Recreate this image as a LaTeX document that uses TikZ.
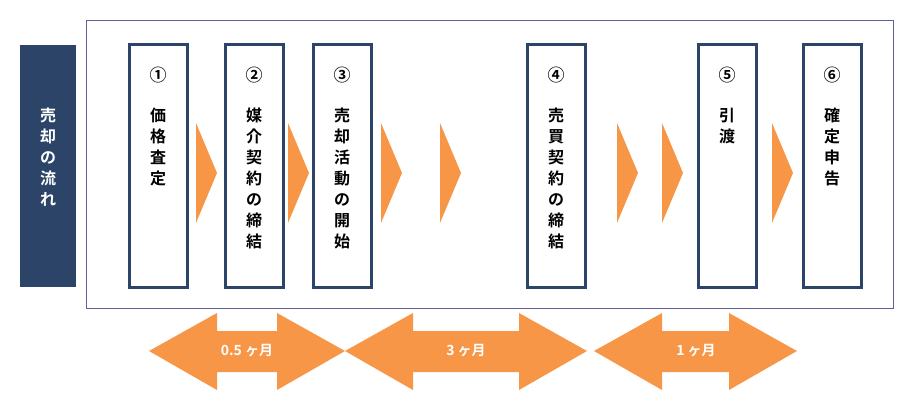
\documentclass[tikz,border=0pt]{standalone}
\usepackage{fontspec}
\newfontfamily\jp{Noto Sans CJK JP}[BoldFont={* Bold}]
\definecolor{navy}{HTML}{2C4468}
\definecolor{org}{HTML}{F79646}
\definecolor{frm}{HTML}{5F5F9A}
\begin{document}
\begin{tikzpicture}[x=1pt,y=-1pt,
 stepbox/.style={draw=navy,line width=3pt,fill=white},
 chev/.style={fill=org},
 vt/.style={font=\jp\bfseries\fontsize{16}{21}\selectfont,align=center,anchor=north,inner sep=0},
 dbl/.style={fill=org},
 lab/.style={font=\jp\bfseries\fontsize{14}{16}\selectfont,text=white}]
\useasboundingbox (0,0) rectangle (900,409);
\draw[frm,line width=0.8pt] (86,20) rectangle (893,308);
\fill[navy] (20,45) rectangle (76,287);
\node[vt,text=white] (title) at (48,108) {売\\却\\の\\流\\れ};
\foreach \n/\x/\t in {1/129/{価\\格\\査\\定},2/225/{媒\\介\\契\\約\\の\\締\\結},3/313/{売\\却\\活\\動\\の\\開\\始},4/527/{売\\買\\契\\約\\の\\締\\結},5/698/{引\\渡},6/803/{確\\定\\申\\告}}{
 \draw[stepbox] (\x,44.5) rectangle ++(58,243);
 \node[vt] (b\n) at (\x+29,108) {\t};
}
\node[font=\jp\bfseries\fontsize{17}{17}\selectfont] (c1) at (158,75) {①};
\node[font=\jp\bfseries\fontsize{17}{17}\selectfont] (c2) at (254,75) {②};
\node[font=\jp\bfseries\fontsize{17}{17}\selectfont] (c3) at (342,75) {③};
\node[font=\jp\bfseries\fontsize{17}{17}\selectfont] (c4) at (556,75) {④};
\node[font=\jp\bfseries\fontsize{17}{17}\selectfont] (c5) at (727,75) {⑤};
\node[font=\jp\bfseries\fontsize{17}{17}\selectfont] (c6) at (832,75) {⑥};
\foreach \a in {196,288,381,440,617,662,772}{
 \fill[chev] (\a,123) -- (\a+21,173) -- (\a,223) -- cycle;
}
\foreach \l/\r in {149/345,345/587,594/797}{
 \fill[dbl] (\l,351) -- (\l+68,313) -- (\l+68,331) -- (\r-68,331) -- (\r-68,313) -- (\r,351) -- (\r-68,390) -- (\r-68,372) -- (\l+68,372) -- (\l+68,390) -- cycle;
}
\node[lab] (d1) at (247,351) {0.5 ヶ月};
\node[lab] (d2) at (466,351) {3 ヶ月};
\node[lab] (d3) at (696,351) {1 ヶ月};
\end{tikzpicture}
\end{document}
